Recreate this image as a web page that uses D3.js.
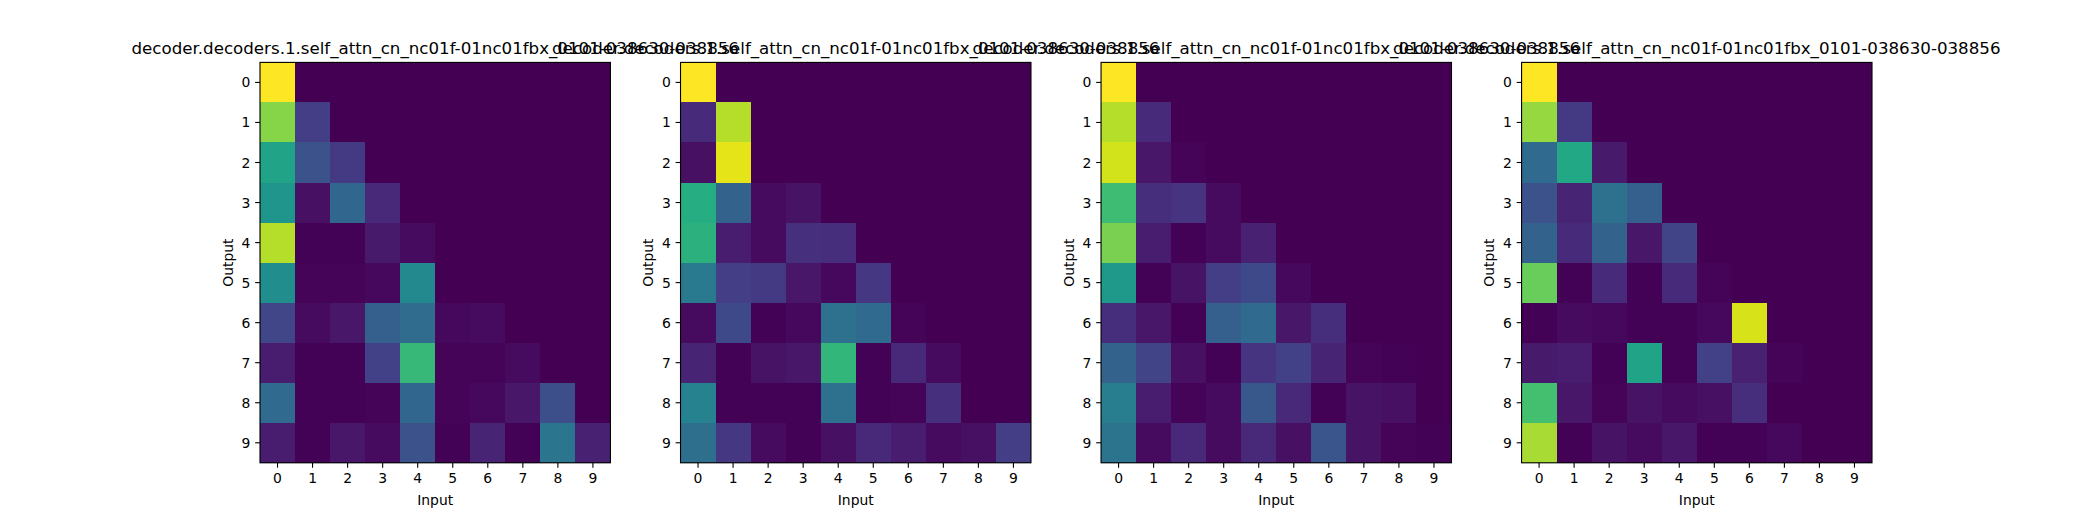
<!DOCTYPE html>
<html lang="en">
  <head>
    <meta charset="utf-8" />
    <title>self attention heads</title>
    <script src="https://d3js.org/d3.v7.min.js"></script>
    <style>
      body { margin: 0; background: #fff; }
      svg { display: block; font-family: "DejaVu Sans", sans-serif; }
      .tick text { font-size: 13.9px; fill: #000; }
      .tick line { stroke: #000; stroke-width: 1.1px; }
    </style>
  </head>
  <body>
    <div id="chart"></div>
    <script>

    // attention weights, one 10x10 matrix per head (rows = output, cols = input)
    var head0 = [
      [1, 0, 0, 0, 0, 0, 0, 0, 0, 0],
      [0.82, 0.18, 0, 0, 0, 0, 0, 0, 0, 0],
      [0.58, 0.25, 0.17, 0, 0, 0, 0, 0, 0, 0],
      [0.52, 0.04, 0.33, 0.11, 0, 0, 0, 0, 0, 0],
      [0.89, 0.005, 0.005, 0.07, 0.03, 0, 0, 0, 0, 0],
      [0.49, 0.01, 0.01, 0.02, 0.47, 0, 0, 0, 0, 0],
      [0.21, 0.03, 0.06, 0.30, 0.35, 0.02, 0.03, 0, 0, 0],
      [0.08, 0.005, 0.005, 0.19, 0.67, 0.01, 0.01, 0.03, 0, 0],
      [0.34, 0.005, 0.005, 0.01, 0.33, 0.01, 0.02, 0.06, 0.24, 0],
      [0.08, 0.005, 0.06, 0.03, 0.25, 0.005, 0.10, 0.005, 0.39, 0.09]
    ];

    var head1 = [
      [1, 0, 0, 0, 0, 0, 0, 0, 0, 0],
      [0.12, 0.89, 0, 0, 0, 0, 0, 0, 0, 0],
      [0.04, 0.96, 0, 0, 0, 0, 0, 0, 0, 0],
      [0.62, 0.31, 0.03, 0.05, 0, 0, 0, 0, 0, 0],
      [0.64, 0.08, 0.03, 0.14, 0.13, 0, 0, 0, 0, 0],
      [0.41, 0.18, 0.17, 0.06, 0.02, 0.16, 0, 0, 0, 0],
      [0.03, 0.22, 0.005, 0.02, 0.37, 0.34, 0.01, 0, 0, 0],
      [0.10, 0.005, 0.05, 0.06, 0.66, 0.005, 0.11, 0.03, 0, 0],
      [0.44, 0.005, 0.005, 0.005, 0.37, 0.005, 0.01, 0.14, 0, 0],
      [0.36, 0.16, 0.03, 0.005, 0.04, 0.11, 0.08, 0.03, 0.04, 0.18]
    ];

    var head2 = [
      [1, 0, 0, 0, 0, 0, 0, 0, 0, 0],
      [0.89, 0.12, 0, 0, 0, 0, 0, 0, 0, 0],
      [0.93, 0.06, 0.01, 0, 0, 0, 0, 0, 0, 0],
      [0.69, 0.13, 0.15, 0.03, 0, 0, 0, 0, 0, 0],
      [0.80, 0.08, 0.005, 0.03, 0.09, 0, 0, 0, 0, 0],
      [0.54, 0.005, 0.05, 0.18, 0.22, 0.02, 0, 0, 0, 0],
      [0.13, 0.06, 0.005, 0.30, 0.34, 0.06, 0.13, 0, 0, 0],
      [0.31, 0.20, 0.04, 0.005, 0.15, 0.19, 0.10, 0.01, 0.005, 0],
      [0.42, 0.08, 0.01, 0.03, 0.27, 0.11, 0.005, 0.05, 0.04, 0],
      [0.38, 0.03, 0.11, 0.03, 0.11, 0.04, 0.26, 0.05, 0.01, 0.005]
    ];

    var head3 = [
      [1, 0, 0, 0, 0, 0, 0, 0, 0, 0],
      [0.84, 0.17, 0, 0, 0, 0, 0, 0, 0, 0],
      [0.34, 0.60, 0.07, 0, 0, 0, 0, 0, 0, 0],
      [0.25, 0.10, 0.37, 0.30, 0, 0, 0, 0, 0, 0],
      [0.31, 0.12, 0.31, 0.06, 0.20, 0, 0, 0, 0, 0],
      [0.77, 0.005, 0.12, 0.005, 0.12, 0.01, 0, 0, 0, 0],
      [0.005, 0.03, 0.02, 0.005, 0.005, 0.02, 0.94, 0, 0, 0],
      [0.07, 0.08, 0.005, 0.58, 0.005, 0.19, 0.09, 0.01, 0, 0],
      [0.70, 0.06, 0.01, 0.05, 0.03, 0.04, 0.13, 0, 0, 0],
      [0.87, 0.005, 0.05, 0.03, 0.06, 0.005, 0.005, 0.02, 0, 0]
    ];

    var heads = [head0, head1, head2, head3];
    var inputLabels = d3.range(10);
    var outputLabels = d3.range(10);
    var title = "decoder.decoders.1.self_attn_cn_nc01f-01nc01fbx_0101-038630-038856";

    // matplotlib-like figure geometry (px at dpi 100)
    var W = 2080, H = 520;
    var axLeft = 0.125 * W, axRight = 0.9 * W;
    var axTop = (1 - 0.88) * H, axBottom = (1 - 0.11) * H;
    var axW = (axRight - axLeft) / (4 + 3 * 0.2);
    var gap = axW * 0.2;
    var axH = axBottom - axTop;
    var pt = 100 / 72;

    var svg = d3.select("#chart").append("svg")
        .attr("width", W)
        .attr("height", H);

    svg.append("rect")
        .attr("width", W).attr("height", H)
        .attr("fill", "#fff");

    heads.forEach(function(data, i){

        var g = svg.append("g")
            .attr("transform", "translate(" + (axLeft + i * (axW + gap)) + "," + axTop + ")");

        var x = d3.scaleBand().domain(inputLabels).range([0, axW]);
        var y = d3.scaleBand().domain(outputLabels).range([0, axH]);

        var vmin = d3.min(data, function(r){ return d3.min(r); });
        var vmax = d3.max(data, function(r){ return d3.max(r); });
        var color = d3.scaleSequential(d3.interpolateViridis).domain([vmin, vmax]);

        var cells = [];
        data.forEach(function(row, r){
            row.forEach(function(v, c){ cells.push({r: r, c: c, v: v}); });
        });

        g.selectAll("rect.cell")
            .data(cells)
            .enter()
            .append("rect")
            .attr("class", "cell")
            .attr("x", function(d){ return x(d.c); })
            .attr("y", function(d){ return y(d.r); })
            .attr("width", x.bandwidth() + 0.5)
            .attr("height", y.bandwidth() + 0.5)
            .attr("fill", function(d){ return color(d.v); })
            .attr("shape-rendering", "crispEdges");

        var xAxis = g.append("g")
            .attr("transform", "translate(0," + axH + ")")
            .call(d3.axisBottom(x).tickSize(3.5 * pt).tickPadding(3.5 * pt));
        xAxis.select(".domain").remove();
        xAxis.selectAll("text").attr("dy", "0.76em");

        var yAxis = g.append("g")
            .call(d3.axisLeft(y).tickSize(3.5 * pt).tickPadding(3.5 * pt));
        yAxis.select(".domain").remove();
        yAxis.selectAll("text").attr("dy", "0.36em");
        g.selectAll(".tick").attr("font-family", null).attr("font-size", null);
        xAxis.attr("font-family", null).attr("font-size", null);
        yAxis.attr("font-family", null).attr("font-size", null);

        g.append("rect")
            .attr("width", axW).attr("height", axH)
            .attr("fill", "none")
            .attr("stroke", "#000")
            .attr("stroke-width", 0.8 * pt);

        g.append("text")
            .attr("x", axW / 2)
            .attr("y", -6 * pt)
            .attr("text-anchor", "middle")
            .attr("font-size", 12 * pt)
            .text(title);

        g.append("text")
            .attr("x", axW / 2)
            .attr("y", axH + 42)
            .attr("text-anchor", "middle")
            .attr("font-size", 10 * pt)
            .text("Input");

        g.append("text")
            .attr("transform", "translate(-27.5," + (axH / 2) + ") rotate(-90)")
            .attr("text-anchor", "middle")
            .attr("font-size", 10 * pt)
            .text("Output");
    });

    </script>
  </body>
</html>
